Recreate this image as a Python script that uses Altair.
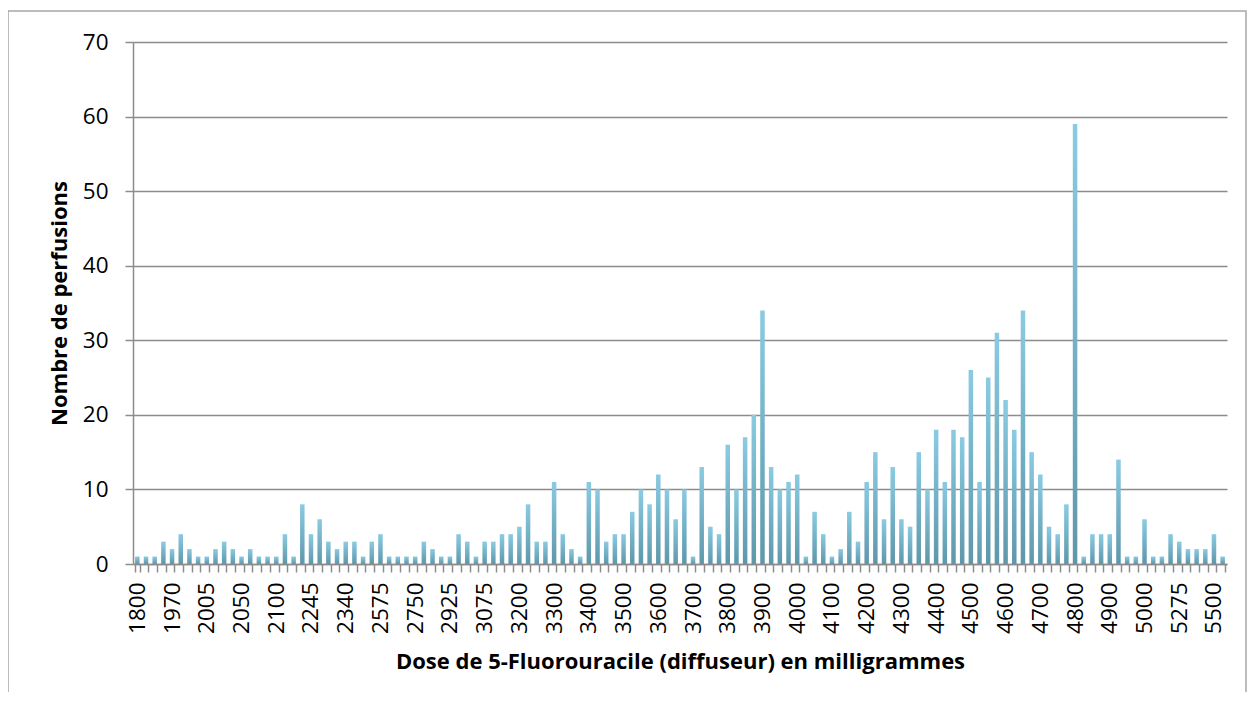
import altair as alt
import pandas as pd

# Tick labels shown on the category axis (every 4th category)
tick_labels = ["1800", "1970", "2005", "2050", "2100", "2245", "2340", "2575",
               "2750", "2925", "3075", "3200", "3300", "3400", "3500", "3600",
               "3700", "3800", "3900", "4000", "4100", "4200", "4300", "4400",
               "4500", "4600", "4700", "4800", "4900", "5000", "5275", "5500"]

# Number of infusions for each dose category (126 categories, left to right)
counts = [1, 1, 1, 3, 2, 4, 2, 1, 1, 2, 3, 2, 1, 2, 1, 1, 1, 4, 1, 8,
          4, 6, 3, 2, 3, 3, 1, 3, 4, 1, 1, 1, 1, 3, 2, 1, 1, 4, 3, 1,
          3, 3, 4, 4, 5, 8, 3, 3, 11, 4, 2, 1, 11, 10, 3, 4, 4, 7, 10, 8,
          12, 10, 6, 10, 1, 13, 5, 4, 16, 10, 17, 20, 34, 13, 10, 11, 12, 1, 7, 4,
          1, 2, 7, 3, 11, 15, 6, 13, 6, 5, 15, 10, 18, 11, 18, 17, 26, 11, 25, 31,
          22, 18, 34, 15, 12, 5, 4, 8, 59, 1, 4, 4, 4, 14, 1, 1, 6, 1, 1, 4,
          3, 2, 2, 2, 4, 1]

df = pd.DataFrame({"i": list(range(len(counts))), "n": counts})

label_arr = "[" + ",".join("'" + t + "'" for t in tick_labels) + "]"
label_expr = "datum.value % 4 == 0 ? " + label_arr + "[datum.value / 4] : ''"

FONT = "Open Sans"
GRAY = "#8c8c8c"

grad = alt.Gradient(
    gradient="linear",
    stops=[alt.GradientStop(color="#8acbe3", offset=0),
           alt.GradientStop(color="#5f97aa", offset=1)],
    x1=0, x2=0, y1=0, y2=1,
)

W, H = 1094, 522

bars = alt.Chart(df).mark_bar(color=grad).encode(
    x=alt.X(
        "i:O",
        scale=alt.Scale(paddingInner=0.48, paddingOuter=0.24),
        axis=alt.Axis(
            title="Dose de 5-Fluorouracile (diffuseur) en milligrammes",
            labelExpr=label_expr,
            labelAngle=270,
            labelOverlap=False,
            tickBand="extent",
            tickSize=8,
            labelPadding=10,
            labelFontSize=22.5,
            grid=False,
            titleX=W / 2,
            titleY=104,
            titleBaseline="alphabetic",
        ),
    ),
    y=alt.Y(
        "n:Q",
        scale=alt.Scale(domain=[0, 70], nice=False),
        axis=alt.Axis(
            title="Nombre de perfusions",
            values=list(range(0, 71, 10)),
            tickSize=8,
            labelPadding=17,
            labelFontSize=22.5,
            grid=True,
            titleX=-67,
            titleY=H / 2,
            titleBaseline="alphabetic",
        ),
    ),
)

frame = alt.Chart(alt.Data(values=[{}])).mark_rect(
    fillOpacity=0, stroke="#a6a6a6", strokeWidth=1.5
).encode(
    x=alt.value(-125), x2=alt.value(1113),
    y=alt.value(-31), y2=alt.value(720),
)

chart = alt.layer(bars, frame).properties(
    width=W,
    height=H,
    padding={"left": 125, "top": 34, "right": 20, "bottom": 128},
    autosize=alt.AutoSizeParams(type="none"),
).configure_view(
    strokeWidth=0
).configure_axis(
    labelFont=FONT,
    labelColor="#000000",
    titleFont=FONT,
    titleFontSize=22,
    titleFontWeight="bold",
    titleColor="#000000",
    gridColor=GRAY,
    gridWidth=1.5,
    domainColor=GRAY,
    domainWidth=1.5,
    tickColor=GRAY,
    tickWidth=1.5,
)

chart.save("out.html", embed_options={"renderer": "svg", "actions": False})
